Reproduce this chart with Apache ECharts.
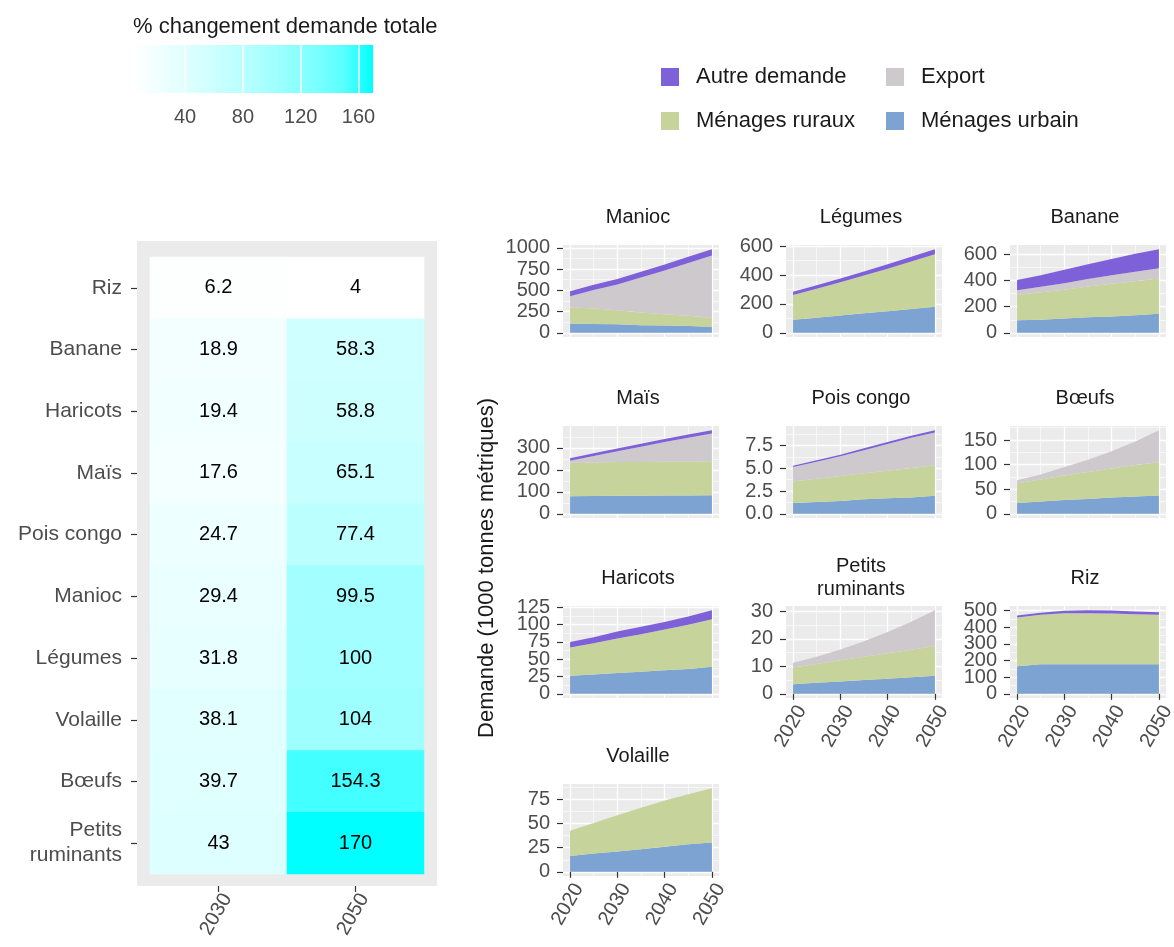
<!DOCTYPE html>
<html>
<head>
<meta charset="utf-8">
<script src="https://cdn.jsdelivr.net/npm/echarts@6/dist/echarts.min.js"></script>
<style>
  html, body { margin: 0; padding: 0; background: #ffffff; }
  #chart { width: 1174px; height: 947px; }
</style>
</head>
<body>
<div id="chart"></div>
<script>
// ---------- Heatmap: % change in total demand ----------
const heatRows = ['Riz', 'Banane', 'Haricots', 'Maïs', 'Pois congo', 'Manioc', 'Légumes', 'Volaille', 'Bœufs', 'Petits\nruminants'];
const heatCols = ['2030', '2050'];
const change2030 = [6.2, 18.9, 19.4, 17.6, 24.7, 29.4, 31.8, 38.1, 39.7, 43];
const change2050 = [4, 58.3, 58.8, 65.1, 77.4, 99.5, 100, 104, 154.3, 170];
const colorbarTicks = [40, 80, 120, 160];

// ---------- Small multiples: demand by component (1000 t) ----------
const years = [2020, 2025, 2030, 2035, 2040, 2045, 2050];
const xTicks = [2020, 2030, 2040, 2050];
const panels = ['Manioc', 'Légumes', 'Banane', 'Maïs', 'Pois congo', 'Bœufs', 'Haricots', 'Petits\nruminants', 'Riz', 'Volaille'];

const menagesUrbain = [
  [110, 105, 100, 90, 85, 80, 70],
  [90, 105, 120, 135, 150, 165, 180],
  [97, 100, 110, 120, 125, 135, 145],
  [80, 81, 82, 82, 83, 83, 84],
  [1.2, 1.3, 1.4, 1.6, 1.7, 1.8, 2.0],
  [22, 25, 28, 30, 33, 35, 37],
  [26, 28, 30, 32, 34, 36, 39],
  [3.5, 4.0, 4.5, 5.0, 5.5, 6.0, 6.6],
  [165, 178, 178, 178, 178, 177, 177],
  [16.5, 19, 21, 23.5, 26, 28.5, 30.5]
];
const menagesRuraux = [
  [190, 180, 165, 150, 135, 120, 105],
  [173, 201, 230, 262, 295, 330, 365],
  [193, 210, 220, 235, 250, 260, 270],
  [152, 152, 153, 154, 154, 155, 155],
  [2.35, 2.55, 2.75, 2.85, 3.05, 3.25, 3.35],
  [40, 45, 50, 55, 59, 64, 68],
  [41, 45, 50, 54, 59, 64, 69],
  [6.1, 6.9, 7.7, 8.5, 9.3, 10.1, 10.8],
  [293, 297, 305, 306, 304, 301, 298],
  [26, 31.5, 37.7, 43, 48, 52, 56.2]
];
const exportDemande = [
  [130, 218, 305, 412, 515, 623, 735],
  [0, 0, 0, 0, 0, 0, 0],
  [36, 42, 50, 57, 65, 72, 80],
  [9, 30, 49, 69, 89, 108, 126],
  [1.6, 1.89, 2.17, 2.55, 2.93, 3.31, 3.6],
  [6, 10, 17, 25, 35, 48, 65],
  [0, 0, 0, 0, 0, 0, 0],
  [1.7, 2.6, 4.0, 5.7, 7.7, 10.2, 13.1],
  [0, 0, 0, 0, 0, 0, 0],
  [0, 0, 0, 0, 0, 0, 0]
];
const autreDemande = [
  [60, 62, 65, 68, 70, 72, 75],
  [22, 24, 26, 28, 30, 32, 35],
  [79, 88, 102, 113, 125, 138, 145],
  [12, 12, 13, 13, 14, 14, 15],
  [0.15, 0.16, 0.18, 0.2, 0.22, 0.24, 0.25],
  [0, 0, 0, 0, 0, 0, 0],
  [8, 9, 10, 11, 11, 12, 13],
  [0, 0, 0, 0, 0, 0, 0],
  [12, 12, 16, 18, 18, 16, 14],
  [0, 0, 0, 0, 0, 0, 0]
];
const yTicks = [
  [0, 250, 500, 750, 1000],
  [0, 200, 400, 600],
  [0, 200, 400, 600],
  [0, 100, 200, 300],
  [0, 2.5, 5, 7.5],
  [0, 50, 100, 150],
  [0, 25, 50, 75, 100, 125],
  [0, 10, 20, 30],
  [0, 100, 200, 300, 400, 500],
  [0, 25, 50, 75]
];
const yDecimals = [0, 0, 0, 0, 1, 0, 0, 0, 0, 0];

// ---------- Styling ----------
const FONT = '"Liberation Sans", Arial, sans-serif';
const AXIS_TEXT = '#4d4d4d';
const TITLE_TEXT = '#1a1a1a';
const PANEL_BG = '#ebebeb';
// white -> cyan ramp, interpolated perceptually (lighter mid-tones)
const CYAN_RAMP = ['#ffffff', '#eeffff', '#dbffff', '#c7ffff', '#b2ffff', '#99ffff', '#7effff', '#5affff', '#00ffff'];
const components = [
  { name: 'Ménages urbain', data: menagesUrbain, color: '#7ca3d1' },
  { name: 'Ménages ruraux', data: menagesRuraux, color: '#c6d49b' },
  { name: 'Export', data: exportDemande, color: '#cec9cd' },
  { name: 'Autre demande', data: autreDemande, color: '#7e60d8' }
];

const grids = [], xAxes = [], yAxes = [], series = [], graphics = [];

// ggplot-like minor breaks between (and just beyond) the major ones
function minorBreaks(ticks, lo, hi) {
  const step = ticks[1] - ticks[0];
  const out = [];
  for (let j = -1; j < ticks.length; j++) {
    const v = ticks[0] + (j + 0.5) * step;
    if (v > lo && v < hi) out.push(v);
  }
  return out;
}

// ----- heatmap panel background (grid 0) -----
grids.push({ left: 137, top: 241, width: 300, height: 645, show: true, backgroundColor: PANEL_BG, borderWidth: 0, outerBoundsMode: 'none' });
xAxes.push({ gridIndex: 0, type: 'value', show: false });
yAxes.push({ gridIndex: 0, type: 'value', show: false });

// ----- heatmap tiles (grid 1) -----
grids.push({ left: 150, top: 257, width: 274, height: 617, show: false, outerBoundsMode: 'none' });
xAxes.push({
  gridIndex: 1, type: 'category', data: heatCols, offset: 12,
  axisLine: { show: false },
  axisTick: { show: true, alignWithLabel: true, length: 6, lineStyle: { color: '#333333', width: 1.2 } },
  axisLabel: { rotate: 60, margin: 4, fontSize: 20, fontFamily: FONT, color: AXIS_TEXT, verticalAlign: 'top' },
  splitLine: { show: false }
});
yAxes.push({
  gridIndex: 1, type: 'category', data: heatRows, inverse: true, offset: 13,
  axisLine: { show: false },
  axisTick: { show: true, alignWithLabel: true, length: 6, lineStyle: { color: '#333333', width: 1.2 } },
  axisLabel: { margin: 15, fontSize: 21, fontFamily: FONT, color: AXIS_TEXT, lineHeight: 25, align: 'right' },
  splitLine: { show: false }
});
const heatData = [];
heatRows.forEach((r, k) => {
  heatData.push([0, k, change2030[k]]);
  heatData.push([1, k, change2050[k]]);
});
series.push({
  type: 'heatmap', xAxisIndex: 1, yAxisIndex: 1, data: heatData, silent: true,
  label: { show: true, formatter: p => String(p.value[2]), fontSize: 20, fontFamily: FONT, color: '#000000' },
  emphasis: { disabled: true }
});
const allChanges = change2030.concat(change2050);
const cMin = Math.min.apply(null, allChanges), cMax = Math.max.apply(null, allChanges);

// ----- colour bar (grid 2) -----
grids.push({ left: 133, top: 45, width: 240, height: 48, show: false, outerBoundsMode: 'none' });
xAxes.push({
  gridIndex: 2, type: 'value', min: cMin, max: cMax, z: 5,
  axisLine: { show: false },
  axisTick: { show: false, customValues: colorbarTicks },
  axisLabel: { customValues: colorbarTicks, margin: 14, fontSize: 20, fontFamily: FONT, color: AXIS_TEXT,
               showMinLabel: true, showMaxLabel: true },
  splitLine: { show: true, lineStyle: { color: '#ffffff', width: 1.5 } }
});
yAxes.push({ gridIndex: 2, type: 'category', data: [''], show: false });
series.push({
  type: 'bar', xAxisIndex: 2, yAxisIndex: 2, data: [cMax], barWidth: '100%', silent: true,
  itemStyle: {
    color: {
      type: 'linear', x: 0, y: 0, x2: 1, y2: 0,
      colorStops: CYAN_RAMP.map((c, k) => ({ offset: k / (CYAN_RAMP.length - 1), color: c }))
    }
  }
});
graphics.push({
  type: 'text', x: 133, y: 27,
  style: { text: '% changement demande totale', fontSize: 22, fontFamily: FONT, fill: TITLE_TEXT, align: 'left', verticalAlign: 'middle' }
});

// ----- small multiples -----
const colLeft = [563, 786, 1010];
const rowTop = [245, 426, 606, 784];
const PW = 156, PH = 92;
const xSpan = years[years.length - 1] - years[0];
const xMin = years[0] - 0.05 * xSpan;
const xMax = years[years.length - 1] + 0.05 * xSpan;
const xMinor = minorBreaks(xTicks, xMin, xMax);

panels.forEach((name, i) => {
  const c = i % 3, r = Math.floor(i / 3);
  const g = grids.length;
  const isBottom = i + 3 >= panels.length;
  grids.push({ left: colLeft[c], top: rowTop[r], width: PW, height: PH, show: true, backgroundColor: PANEL_BG, borderWidth: 0, outerBoundsMode: 'none' });

  // stacked total sets the y range (5% padding both sides)
  const totals = years.map((_, k) => components.reduce((s, comp) => s + comp.data[i][k], 0));
  const tMax = Math.max.apply(null, totals);
  const yMin = -0.05 * tMax, yMax = 1.05 * tMax;
  const yMaj = yTicks[i].filter(v => v >= yMin && v <= yMax);
  const yMinorVals = minorBreaks(yTicks[i], yMin, yMax);
  // blank end stops at the panel edges: they take the min/max label slots,
  // so crowded labels such as 0/25 or 400/500 all stay visible
  const edge = 1e-6 * (yMax - yMin);
  const yStops = [yMin + edge].concat(yMaj, [yMax - edge]);

  const xi = xAxes.length;
  xAxes.push({
    gridIndex: g, type: 'value', min: xMin, max: xMax, position: 'bottom',
    axisLine: { show: false },
    axisTick: { show: isBottom, customValues: xTicks, length: 6, lineStyle: { color: '#333333', width: 1.2 } },
    axisLabel: { show: isBottom, customValues: xTicks, rotate: 60, margin: 4, verticalAlign: 'top',
                 fontSize: 20, fontFamily: FONT, color: AXIS_TEXT,
                 showMinLabel: true, showMaxLabel: true, formatter: v => String(v) },
    splitLine: { show: true, lineStyle: { color: '#ffffff', width: 1.3 } }
  });
  xAxes.push({
    gridIndex: g, type: 'value', min: xMin, max: xMax, position: 'top',
    axisLine: { show: false }, axisTick: { show: false, customValues: xMinor }, axisLabel: { show: false },
    splitLine: { show: true, lineStyle: { color: '#ffffff', width: 0.6 } }
  });
  const yi = yAxes.length;
  yAxes.push({
    gridIndex: g, type: 'value', min: yMin, max: yMax, position: 'left',
    axisLine: { show: false },
    axisTick: { show: true, customValues: yStops, length: 6, lineStyle: { color: '#333333', width: 1.2 } },
    axisLabel: { customValues: yStops, margin: 13, fontSize: 20, fontFamily: FONT, color: AXIS_TEXT,
                 showMinLabel: false, showMaxLabel: false,
                 formatter: v => (yMaj.indexOf(v) >= 0 ? Number(v).toFixed(yDecimals[i]) : '') },
    splitLine: { show: true, showMinLine: false, showMaxLine: false, lineStyle: { color: '#ffffff', width: 1.3 } }
  });
  yAxes.push({
    gridIndex: g, type: 'value', min: yMin, max: yMax, position: 'right',
    axisLine: { show: false }, axisTick: { show: false, customValues: yMinorVals }, axisLabel: { show: false },
    splitLine: { show: true, lineStyle: { color: '#ffffff', width: 0.6 } }
  });

  // value first, year second: the stack is applied to the demand dimension
  components.forEach(comp => {
    series.push({
      type: 'line', name: comp.name, xAxisIndex: xi, yAxisIndex: yi, stack: 'panel' + i,
      data: years.map((yr, k) => [comp.data[i][k], yr]),
      encode: { x: 1, y: 0 },
      symbol: 'none', silent: true,
      lineStyle: { width: 0 },
      itemStyle: { color: comp.color },
      areaStyle: { color: comp.color, opacity: 1 },
      emphasis: { disabled: true }
    });
  });

  graphics.push({
    type: 'text', x: colLeft[c] + PW / 2 - 3, y: rowTop[r] - 28,
    style: { text: name, fontSize: 20, fontFamily: FONT, fill: TITLE_TEXT, align: 'center', verticalAlign: 'middle', lineHeight: 23 }
  });
});

graphics.push({
  type: 'text', x: 487, y: 568, rotation: Math.PI / 2,
  style: { text: 'Demande (1000 tonnes métriques)', fontSize: 22, fontFamily: FONT, fill: TITLE_TEXT, align: 'center', verticalAlign: 'middle' }
});

// ----- legend: one block per key so the two columns line up -----
const legendSpots = [
  { name: 'Autre demande', left: 661, top: 66 },
  { name: 'Export', left: 886, top: 66 },
  { name: 'Ménages ruraux', left: 661, top: 110 },
  { name: 'Ménages urbain', left: 886, top: 110 }
];
const legends = legendSpots.map(s => ({
  data: [s.name], left: s.left, top: s.top, padding: 0, selectedMode: false,
  icon: 'rect', itemWidth: 18, itemHeight: 18,
  textStyle: { fontSize: 22, fontFamily: FONT, color: TITLE_TEXT, padding: [0, 0, 0, 12] }
}));

const chart = echarts.init(document.getElementById('chart'), null, { renderer: 'canvas' });
chart.setOption({
  animation: false,
  backgroundColor: '#ffffff',
  grid: grids,
  xAxis: xAxes,
  yAxis: yAxes,
  visualMap: {
    type: 'continuous', show: false, seriesIndex: 0, min: cMin, max: cMax,
    inRange: { color: CYAN_RAMP }
  },
  legend: legends,
  graphic: graphics,
  series: series
});
</script>
</body>
</html>
